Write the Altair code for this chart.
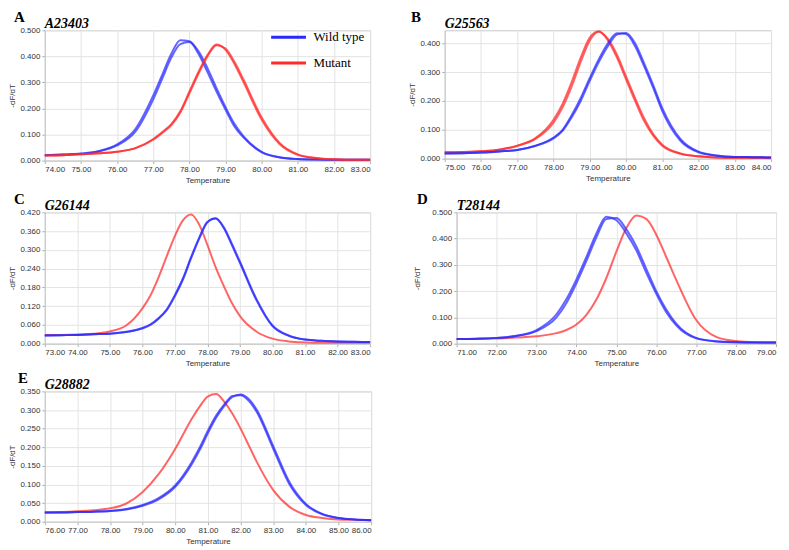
import altair as alt
import pandas as pd

BLUE = "#2a2aff"
RED = "#ff2a2a"
GENOTYPES = ["Wild type", "Mutant"]

# ---------------- Panel A : A23403 ----------------
A_T = [74, 74.5, 75, 75.5, 76, 76.5, 77, 77.25, 77.5, 77.75, 78, 78.25, 78.5, 78.75, 79, 79.25, 79.5, 80, 80.5, 81, 81.5, 82, 82.5, 83]
A_wt1 = [.021, .023, .027, .037, .062, .12, .25, .33, .41, .462, .458, .41, .34, .265, .195, .13, .088, .032, .012, .006, .004, .003, .003, .003]
A_wt2 = [.021, .023, .026, .035, .058, .11, .235, .315, .395, .447, .455, .42, .355, .278, .205, .14, .093, .034, .013, .006, .004, .003, .003, .003]
A_mu1 = [.020, .021, .024, .028, .034, .048, .083, .11, .14, .19, .265, .34, .405, .445, .425, .37, .30, .157, .063, .022, .009, .005, .003, .003]
A_mu2 = [.020, .021, .024, .028, .034, .047, .080, .106, .136, .185, .258, .333, .40, .443, .43, .378, .31, .165, .067, .024, .010, .005, .003, .003]

# ---------------- Panel B : G25563 ----------------
B_T = [75, 75.5, 76, 76.5, 77, 77.5, 78, 78.25, 78.5, 78.75, 79, 79.25, 79.5, 79.75, 80, 80.25, 80.5, 80.75, 81, 81.5, 82, 82.5, 83, 83.5, 84]
B_wt1 = [.018, .019, .021, .025, .030, .045, .073, .10, .15, .21, .28, .345, .40, .435, .432, .39, .32, .245, .165, .062, .022, .010, .006, .005, .004]
B_wt2 = [.018, .019, .021, .025, .030, .044, .070, .096, .143, .20, .27, .335, .39, .43, .436, .40, .33, .255, .175, .068, .024, .011, .006, .005, .004]
B_mu1 = [.022, .023, .026, .031, .045, .071, .135, .19, .265, .35, .42, .442, .41, .35, .275, .20, .13, .08, .045, .017, .008, .004, .003, .003, .003]
B_mu2 = [.022, .023, .026, .031, .044, .068, .125, .178, .25, .335, .41, .44, .415, .36, .285, .21, .14, .085, .048, .018, .008, .004, .003, .003, .003]

# ---------------- Panel C : G26144 ----------------
C_T = [73, 73.5, 74, 74.5, 75, 75.5, 76, 76.25, 76.5, 76.75, 77, 77.25, 77.5, 77.75, 78, 78.25, 78.5, 78.75, 79, 79.5, 80, 80.5, 81, 81.5, 82, 82.5, 83]
C_wt1 = [.026, .027, .028, .030, .032, .038, .050, .062, .082, .11, .156, .21, .278, .34, .39, .40, .37, .315, .258, .14, .056, .025, .013, .009, .007, .006, .005]
C_wt2 = [.026, .027, .028, .030, .032, .037, .049, .060, .080, .107, .152, .206, .274, .337, .388, .401, .373, .32, .262, .144, .058, .026, .013, .009, .007, .006, .005]
C_mu1 = [.028, .028, .029, .032, .039, .058, .113, .155, .213, .28, .345, .395, .413, .38, .315, .245, .185, .13, .088, .039, .016, .007, .004, .003, .003, .003, .003]

# ---------------- Panel D : T28144 ----------------
D_T = [71, 71.5, 72, 72.5, 73, 73.5, 73.75, 74, 74.25, 74.5, 74.75, 75, 75.25, 75.5, 75.75, 76, 76.25, 76.5, 77, 77.5, 78, 78.5, 79]
D_wt1 = [.018, .019, .022, .030, .052, .112, .17, .245, .33, .42, .483, .47, .42, .355, .27, .19, .12, .07, .020, .008, .005, .004, .004]
D_wt2 = [.018, .019, .022, .029, .048, .10, .155, .23, .315, .405, .475, .478, .435, .37, .285, .20, .13, .076, .022, .009, .005, .004, .004]
D_mu1 = [.018, .018, .020, .023, .028, .040, .052, .073, .11, .168, .25, .35, .44, .488, .475, .415, .33, .243, .09, .026, .010, .005, .004]

# ---------------- Panel E : G28882 ----------------
E_T = [76, 76.5, 77, 77.5, 78, 78.5, 79, 79.5, 80, 80.5, 80.75, 81, 81.25, 81.5, 81.75, 82, 82.25, 82.5, 83, 83.5, 84, 84.5, 85, 85.5, 86]
E_wt1 = [.025, .025, .026, .027, .029, .034, .045, .064, .098, .16, .20, .245, .285, .315, .338, .34, .325, .294, .196, .10, .045, .020, .010, .006, .004]
E_wt2 = [.025, .025, .026, .027, .029, .033, .043, .061, .094, .154, .193, .238, .279, .311, .335, .342, .33, .30, .203, .106, .048, .021, .010, .006, .004]
E_mu1 = [.025, .026, .028, .031, .036, .049, .080, .129, .196, .276, .31, .337, .343, .322, .29, .25, .205, .16, .085, .040, .018, .010, .006, .005, .004]

PANELS = [
    dict(letter="A", gene="A23403", T=A_T, series=[("Wild type", 1, A_wt1), ("Wild type", 2, A_wt2), ("Mutant", 1, A_mu1), ("Mutant", 2, A_mu2)],
         xdom=[74, 83], ydom=[0, 0.5], yticks=[0, .1, .2, .3, .4, .5], w=327, h=131, legend=True, ldx=-31, ytp=3),
    dict(letter="B", gene="G25563", T=B_T, series=[("Mutant", 1, B_mu1), ("Mutant", 2, B_mu2), ("Wild type", 1, B_wt1), ("Wild type", 2, B_wt2)],
         xdom=[75, 84], ydom=[0, 0.445], yticks=[0, .1, .2, .3, .4], w=328, h=129, legend=False, ldx=-34, ytp=3),
    dict(letter="C", gene="G26144", T=C_T, series=[("Mutant", 1, C_mu1), ("Wild type", 1, C_wt1), ("Wild type", 2, C_wt2)],
         xdom=[73, 83], ydom=[0, 0.42], yticks=[0, .06, .12, .18, .24, .30, .36, .42], w=327, h=132, legend=False, ldx=-31, ytp=3),
    dict(letter="D", gene="T28144", T=D_T, series=[("Mutant", 1, D_mu1), ("Wild type", 1, D_wt1), ("Wild type", 2, D_wt2)],
         xdom=[71, 79], ydom=[0, 0.5], yticks=[0, .1, .2, .3, .4, .5], w=321, h=132, legend=False, ldx=-40, ytp=10),
    dict(letter="E", gene="G28882", T=E_T, series=[("Mutant", 1, E_mu1), ("Wild type", 1, E_wt1), ("Wild type", 2, E_wt2)],
         xdom=[76, 86], ydom=[0, 0.35], yticks=[0, .05, .1, .15, .2, .25, .3, .35], w=328, h=131, legend=False, ldx=-27, ytp=3),
]


def make_panel(p):
    rows = []
    for g, r, vals in p["series"]:
        for t, v in zip(p["T"], vals):
            rows.append({"T": t, "v": v, "genotype": g, "rep": f"{g}{r}"})
    df = pd.DataFrame(rows)
    if p["legend"]:
        leg = alt.Legend(orient="none", legendX=226, legendY=-12, title=None, symbolType="stroke",
                         symbolSize=1225, symbolStrokeWidth=3, symbolOpacity=1, labelFont="Liberation Serif",
                         labelFontSize=13, labelColor="black", labelOffset=6, rowPadding=-22, labelLimit=200)
    else:
        leg = None
    lo, hi = p["xdom"]
    lines = alt.Chart(df).mark_line(interpolate="monotone", strokeWidth=2, opacity=0.72).encode(
        x=alt.X("T:Q", scale=alt.Scale(domain=p["xdom"], nice=False, zero=False),
                axis=alt.Axis(title="Temperature", values=list(range(lo, hi + 1)), format=".2f")),
        y=alt.Y("v:Q", scale=alt.Scale(domain=p["ydom"], nice=False, zero=False),
                axis=alt.Axis(title="-dF/dT", values=p["yticks"], format=".3f", titlePadding=p["ytp"])),
        color=alt.Color("genotype:N", scale=alt.Scale(domain=GENOTYPES, range=[BLUE, RED]), legend=leg),
        detail="rep:N",
    )
    lab = pd.DataFrame({"letter": [p["letter"]], "gene": [p["gene"]]})
    letter = alt.Chart(lab).mark_text(font="Liberation Serif", fontWeight="bold", fontSize=15, align="left",
                                      baseline="alphabetic", color="black").encode(
        text="letter:N", x=alt.value(p["ldx"]), y=alt.value(-8))
    gene = alt.Chart(lab).mark_text(font="Liberation Serif", fontWeight="bold", fontStyle="italic", fontSize=14,
                                    align="left", baseline="alphabetic", color="black").encode(
        text="gene:N", x=alt.value(0), y=alt.value(-2))
    return alt.layer(lines, letter, gene).properties(width=p["w"], height=p["h"])


pA, pB, pC, pD, pE = [make_panel(p) for p in PANELS]

row1 = alt.hconcat(pA, pB, spacing=33).resolve_scale(color="independent")
row2 = alt.hconcat(pC, pD, spacing=38).resolve_scale(color="independent")
top = alt.vconcat(row1, row2, spacing=6).resolve_scale(color="independent")
chart = alt.vconcat(top, pE, spacing=2).resolve_scale(color="independent").properties(padding=0, background="white")

chart = chart.configure_view(stroke="#c8c8c8", strokeWidth=1).configure_axis(
    labelFont="Liberation Sans", labelFontSize=8, labelColor="#333",
    titleFont="Liberation Sans", titleFontSize=8, titleFontWeight="normal", titleColor="#333",
    gridColor="#e3e3e3", domainColor="#c8c8c8", tickColor="#b0b0b0", tickSize=3,
    labelPadding=2, titlePadding=3,
)

chart.save("out.html", embed_options={"renderer": "svg", "actions": False})
